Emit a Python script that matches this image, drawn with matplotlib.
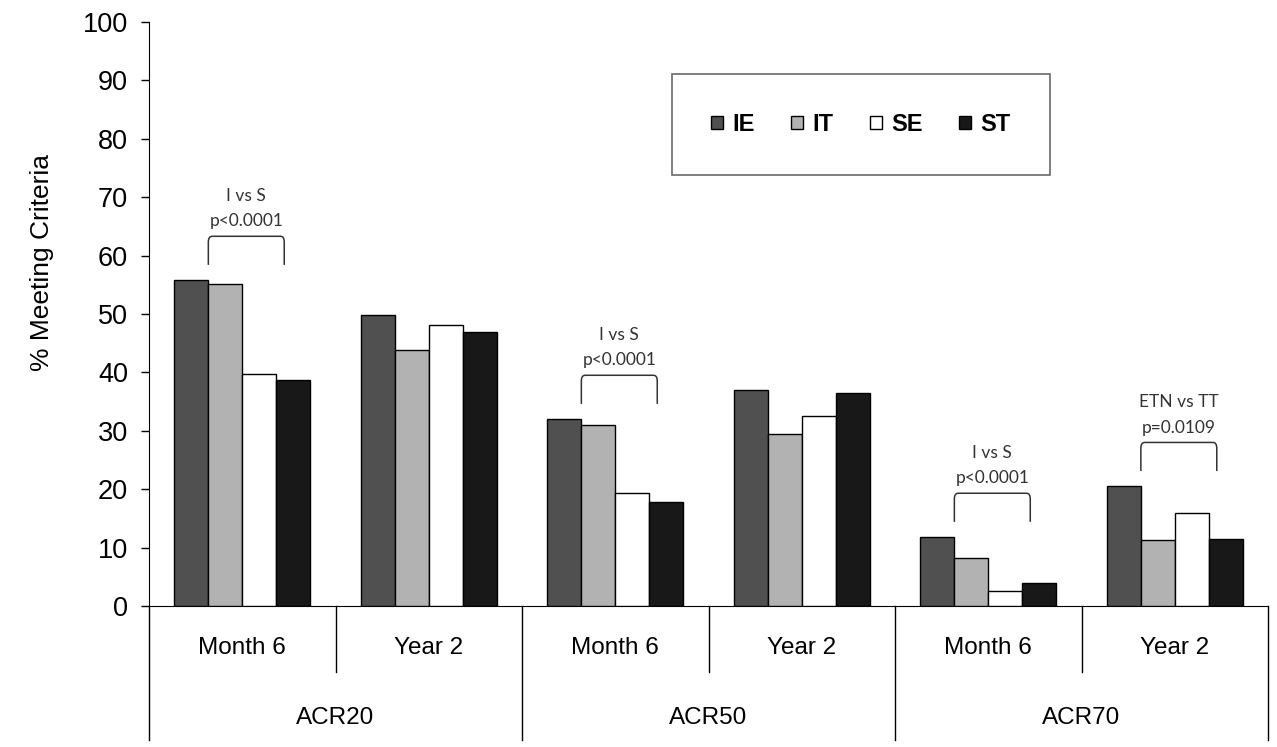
import numpy as np
import matplotlib.pyplot as plt
from matplotlib.path import Path
from matplotlib.patches import PathPatch, Patch

# ---------------- data ----------------

measures = ["ACR20", "ACR50", "ACR70"]
timepoints = ["Month 6", "Year 2"]
series = ["IE", "IT", "SE", "ST"]

ie = [55.8, 49.9, 32.0, 36.9, 11.8, 20.5]
it = [55.1, 43.8, 31.0, 29.4, 8.2, 11.3]
se = [39.7, 48.1, 19.3, 32.5, 2.6, 15.9]
st = [38.7, 46.9, 17.8, 36.4, 3.9, 11.4]

stat_groups = [0, 2, 4, 5]
stat_labels = ["I vs S\np<0.0001", "I vs S\np<0.0001", "I vs S\np<0.0001",
               "ETN vs TT\np=0.0109"]

colors = ["#505050", "#b2b2b2", "#ffffff", "#181818"]

# ---------------- figure ----------------

fig = plt.figure(figsize=(12.77, 7.47), dpi=100)
ax = fig.add_axes([0.1167, 0.1888, 0.8763, 0.7818])

values = np.array([ie, it, se, st])
n_groups = values.shape[1]
x = np.arange(n_groups)
w = 0.182

for k, (name, col) in enumerate(zip(series, colors)):
    ax.bar(x + (k - 1.5) * w, values[k], width=w, color=col,
           edgecolor="black", linewidth=1.0, label=name, zorder=3)

ax.set_xlim(-0.5, n_groups - 0.5)
ax.set_ylim(0, 100)
ax.set_yticks(range(0, 101, 10))
ax.set_xticks([])
ax.tick_params(axis="y", length=6, width=1, labelsize=19.5, pad=9)
for lbl in ax.get_yticklabels():
    lbl.set_family("Liberation Sans")
for s in ["top", "right"]:
    ax.spines[s].set_visible(False)
ax.spines["left"].set_bounds(0, 100)

fig.text(0.033, 0.649, "% Meeting Criteria", rotation=90, ha="center",
         va="center", fontsize=19, family="Liberation Sans")

# ---------------- category axis below ----------------

tr = ax.get_xaxis_transform()
lbl_font = dict(fontsize=17.5, family="Liberation Sans")
for i in range(n_groups + 1):
    b = i - 0.5
    low = -0.2295 if i % 2 == 0 else -0.113
    ax.plot([b, b], [0, low], transform=tr, color="black", lw=1, clip_on=False)
for i in range(n_groups):
    ax.text(i, -0.072, timepoints[i % 2], transform=tr, ha="center",
            va="center", **lbl_font)
for j, m in enumerate(measures):
    ax.text(2 * j + 0.5, -0.192, m, transform=tr, ha="center", va="center",
            **lbl_font)

# ---------------- significance brackets ----------------

for g, txt in zip(stat_groups, stat_labels):
    x0 = g - w
    x1 = g + 0.225
    y0 = values[:, g].max() + 2.6
    y1 = y0 + 4.9
    rx, ry = 0.02, 1.0
    verts = [(x0, y0), (x0, y1 - ry), (x0, y1), (x0 + rx, y1),
             (x1 - rx, y1), (x1, y1), (x1, y1 - ry), (x1, y0)]
    codes = [Path.MOVETO, Path.LINETO, Path.CURVE3, Path.CURVE3,
             Path.LINETO, Path.CURVE3, Path.CURVE3, Path.LINETO]
    ax.add_patch(PathPatch(Path(verts, codes), fill=False, lw=1.1,
                           edgecolor="#333333", zorder=4))
    ax.annotate(txt, xy=((x0 + x1) / 2, y1), xytext=(0, 5),
                textcoords="offset points", ha="center", va="bottom",
                fontsize=12.5, family="Lato", color="#333333",
                linespacing=1.75)

# ---------------- legend ----------------

handles = [Patch(facecolor=c, edgecolor="black", linewidth=1) for c in colors]
leg = ax.legend(handles, series, loc="center", bbox_to_anchor=(0.636, 0.825),
                ncol=4, frameon=True, fancybox=False, borderpad=1.65,
                handlelength=0.5, handleheight=0.5, handletextpad=0.4,
                columnspacing=1.55, prop=dict(family="Liberation Sans",
                                              weight="bold", size=17))
leg.get_frame().set_edgecolor("#444444")
leg.get_frame().set_linewidth(1.2)

fig.savefig("out.png", dpi=100)
